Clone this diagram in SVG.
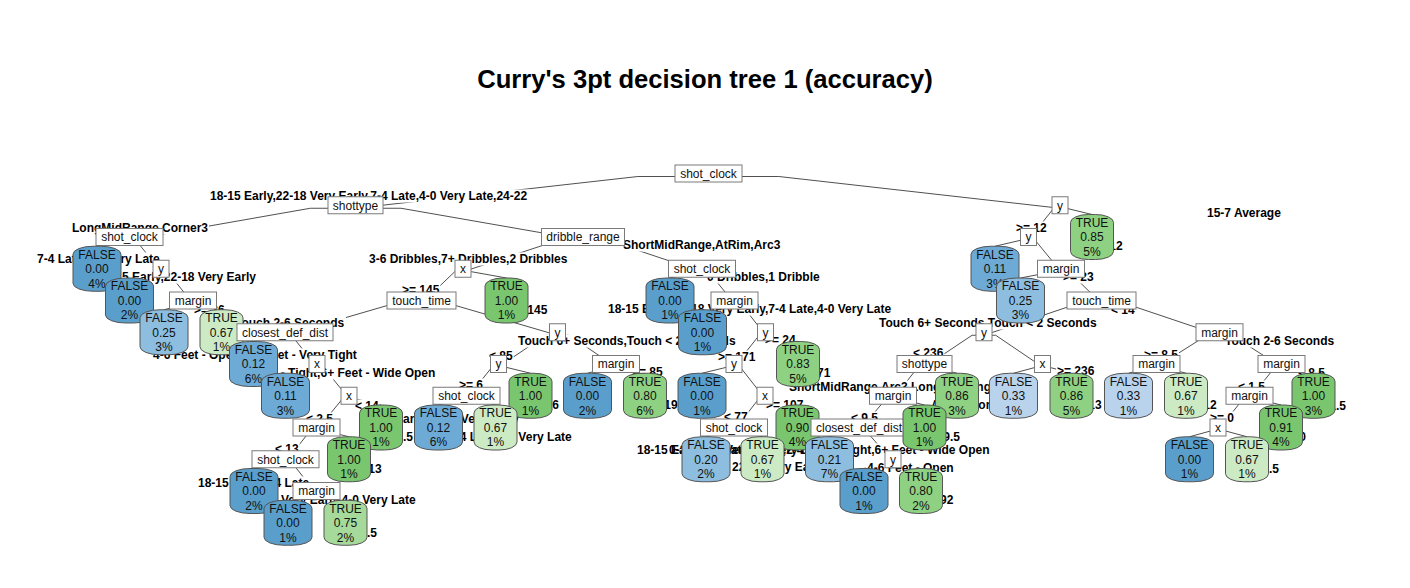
<svg xmlns="http://www.w3.org/2000/svg" width="1410" height="588" viewBox="0 0 1410 588">
<style>
.title{font:bold 25.6px "Liberation Sans",Arial,sans-serif;fill:#000;text-anchor:middle}
.e{fill:none;stroke:#505050;stroke-width:1}
.lb{fill:#fff}
.lbl{font:bold 12px "Liberation Sans",Arial,sans-serif;fill:#000}
.bx rect{fill:#fff;stroke:#7a7a7a;stroke-width:1}
.bx text,.lf text{font:12px "Liberation Sans",Arial,sans-serif;fill:#111;text-anchor:middle}
.lf rect{stroke:#555;stroke-width:1}
.f0 rect{fill:#5A9FCC}
.f1 rect{fill:#6DAAD5}
.f2 rect{fill:#8DBEDF}
.f3 rect{fill:#BAD3EC}
.t67 rect{fill:#CCEBC5}
.t75 rect{fill:#A6DA9A}
.t8 rect{fill:#8ED182}
.t9 rect{fill:#79C66F}
</style>
<text class="title" x="705" y="88">Curry's 3pt decision tree 1 (accuracy)</text>
<g id="connectors">
<polyline class="e" points="708.5,176.5 637.9,176.5 355.5,208.25"/>
<polyline class="e" points="708.5,176.5 778.8,176.5 1060,208.25"/>
<polyline class="e" points="355.5,208.25 310.3,208.25 129.5,240"/>
<polyline class="e" points="355.5,208.25 401,208.25 583,240"/>
<polyline class="e" points="1060,208.25 1053.7,208.25 1028.5,240"/>
<polyline class="e" points="1060,208.25 1066.4,208.25 1092,214.5"/>
<polyline class="e" points="129.5,240 123,240 97,246.25"/>
<polyline class="e" points="129.5,240 135.8,240 161,271.75"/>
<polyline class="e" points="583,240 559,240 463,271.75"/>
<polyline class="e" points="583,240 606.8,240 702,271.75"/>
<polyline class="e" points="1028.5,240 1021.8,240 995,246.25"/>
<polyline class="e" points="1028.5,240 1035,240 1061,271.75"/>
<polyline class="e" points="161,271.75 154.7,271.75 129.5,278"/>
<polyline class="e" points="161,271.75 167.4,271.75 193,303.5"/>
<polyline class="e" points="463,271.75 454.7,271.75 421.5,303.5"/>
<polyline class="e" points="463,271.75 471.7,271.75 506.5,278"/>
<polyline class="e" points="702,271.75 695.6,271.75 670,278"/>
<polyline class="e" points="702,271.75 708.5,271.75 734.5,303.5"/>
<polyline class="e" points="1061,271.75 1052.9,271.75 1020.5,278"/>
<polyline class="e" points="1061,271.75 1069.1,271.75 1101.5,303.5"/>
<polyline class="e" points="193,303.5 187.2,303.5 164,309.75"/>
<polyline class="e" points="193,303.5 198.7,303.5 221.5,309.75"/>
<polyline class="e" points="421.5,303.5 394.2,303.5 285,335.25"/>
<polyline class="e" points="421.5,303.5 448.7,303.5 557.5,335.25"/>
<polyline class="e" points="734.5,303.5 728.1,303.5 702.5,309.75"/>
<polyline class="e" points="734.5,303.5 740.7,303.5 765.5,335.25"/>
<polyline class="e" points="1101.5,303.5 1078,303.5 984,335.25"/>
<polyline class="e" points="1101.5,303.5 1125.1,303.5 1219.5,335.25"/>
<polyline class="e" points="285,335.25 278.7,335.25 253.5,341.5"/>
<polyline class="e" points="285,335.25 291.4,335.25 317,367"/>
<polyline class="e" points="557.5,335.25 545.7,335.25 498.5,367"/>
<polyline class="e" points="557.5,335.25 569.2,335.25 616,367"/>
<polyline class="e" points="765.5,335.25 759.2,335.25 734,367"/>
<polyline class="e" points="765.5,335.25 772,335.25 798,341.5"/>
<polyline class="e" points="984,335.25 972.1,335.25 924.5,367"/>
<polyline class="e" points="984,335.25 995.7,335.25 1042.5,367"/>
<polyline class="e" points="1219.5,335.25 1206.9,335.25 1156.5,367"/>
<polyline class="e" points="1219.5,335.25 1231.9,335.25 1281.5,367"/>
<polyline class="e" points="317,367 310.7,367 285.5,373.25"/>
<polyline class="e" points="317,367 323.4,367 349,398.75"/>
<polyline class="e" points="498.5,367 492.1,367 466.5,398.75"/>
<polyline class="e" points="498.5,367 504.9,367 530.5,373.25"/>
<polyline class="e" points="616,367 610.3,367 587.5,373.25"/>
<polyline class="e" points="616,367 621.8,367 645,373.25"/>
<polyline class="e" points="734,367 727.6,367 702,373.25"/>
<polyline class="e" points="734,367 740.2,367 765,398.75"/>
<polyline class="e" points="924.5,367 918.2,367 893,398.75"/>
<polyline class="e" points="924.5,367 931,367 957,373.25"/>
<polyline class="e" points="1042.5,367 1036.7,367 1013.5,373.25"/>
<polyline class="e" points="1042.5,367 1048.3,367 1071.5,373.25"/>
<polyline class="e" points="1156.5,367 1150.9,367 1128.5,373.25"/>
<polyline class="e" points="1156.5,367 1162.4,367 1186,373.25"/>
<polyline class="e" points="1281.5,367 1275.1,367 1249.5,398.75"/>
<polyline class="e" points="1281.5,367 1287.9,367 1313.5,373.25"/>
<polyline class="e" points="349,398.75 342.5,398.75 316.5,430.5"/>
<polyline class="e" points="349,398.75 355.4,398.75 381,405"/>
<polyline class="e" points="466.5,398.75 460.9,398.75 438.5,405"/>
<polyline class="e" points="466.5,398.75 472.3,398.75 495.5,405"/>
<polyline class="e" points="765,398.75 758.8,398.75 734,430.5"/>
<polyline class="e" points="765,398.75 771.5,398.75 797.5,405"/>
<polyline class="e" points="893,398.75 886.2,398.75 859,430.5"/>
<polyline class="e" points="893,398.75 899.3,398.75 924.5,405"/>
<polyline class="e" points="1249.5,398.75 1243.2,398.75 1218,430.5"/>
<polyline class="e" points="1249.5,398.75 1255.8,398.75 1281,405"/>
<polyline class="e" points="316.5,430.5 310.3,430.5 285.5,462.25"/>
<polyline class="e" points="316.5,430.5 323,430.5 349,436.75"/>
<polyline class="e" points="734,430.5 728.4,430.5 706,436.75"/>
<polyline class="e" points="734,430.5 739.7,430.5 762.5,436.75"/>
<polyline class="e" points="859,430.5 853.1,430.5 829.5,436.75"/>
<polyline class="e" points="859,430.5 865.8,430.5 893,462.25"/>
<polyline class="e" points="1218,430.5 1212.3,430.5 1189.5,436.75"/>
<polyline class="e" points="1218,430.5 1223.8,430.5 1247,436.75"/>
<polyline class="e" points="285.5,462.25 279.2,462.25 254,468.5"/>
<polyline class="e" points="285.5,462.25 291.7,462.25 316.5,494"/>
<polyline class="e" points="893,462.25 887.2,462.25 864,468.5"/>
<polyline class="e" points="893,462.25 898.6,462.25 921,468.5"/>
<polyline class="e" points="316.5,494 310.8,494 288,500.25"/>
<polyline class="e" points="316.5,494 322.3,494 345.5,500.25"/>
</g>
<g id="split-label-backgrounds" class="lb">
<rect x="209" y="189.5" width="322.2" height="13"/>
<rect x="1206" y="206.5" width="76.7" height="13"/>
<rect x="71" y="221.5" width="138" height="13"/>
<rect x="622" y="238.5" width="159.3" height="13"/>
<rect x="36" y="252.5" width="125.4" height="13"/>
<rect x="97" y="270.5" width="161.4" height="13"/>
<rect x="368" y="252.5" width="200.4" height="13"/>
<rect x="706" y="270.5" width="114.7" height="13"/>
<rect x="401" y="283.5" width="39.4" height="13"/>
<rect x="516" y="303.5" width="32.4" height="13"/>
<rect x="517" y="334.5" width="221.4" height="13"/>
<rect x="234" y="316.5" width="112" height="13"/>
<rect x="152" y="348.5" width="206.7" height="13"/>
<rect x="231" y="366.5" width="205.7" height="13"/>
<rect x="354" y="399.5" width="25.7" height="13"/>
<rect x="305" y="412.5" width="29" height="13"/>
<rect x="378" y="430.5" width="36" height="13"/>
<rect x="274" y="442.5" width="25.7" height="13"/>
<rect x="350" y="462.5" width="32.7" height="13"/>
<rect x="197" y="476.5" width="114.1" height="13"/>
<rect x="246" y="493.5" width="172.8" height="13"/>
<rect x="342" y="526.5" width="36" height="13"/>
<rect x="360" y="412.5" width="161.4" height="13"/>
<rect x="448" y="430.5" width="125.4" height="13"/>
<rect x="458" y="378.5" width="26" height="13"/>
<rect x="541" y="398.5" width="19" height="13"/>
<rect x="488" y="349.5" width="25.7" height="13"/>
<rect x="631" y="365.5" width="32.7" height="13"/>
<rect x="646" y="398.5" width="32.7" height="13"/>
<rect x="607" y="302.5" width="288.2" height="13"/>
<rect x="764" y="333.5" width="32.7" height="13"/>
<rect x="717" y="350.5" width="39.4" height="13"/>
<rect x="799" y="366.5" width="32.4" height="13"/>
<rect x="723" y="410.5" width="25.7" height="13"/>
<rect x="765" y="398.5" width="39.4" height="13"/>
<rect x="636" y="443.5" width="192.1" height="13"/>
<rect x="731" y="460.5" width="94.7" height="13"/>
<rect x="668" y="443.5" width="323.7" height="13"/>
<rect x="866" y="461.5" width="88.7" height="13"/>
<rect x="915" y="493.5" width="39.4" height="13"/>
<rect x="850" y="411.5" width="29" height="13"/>
<rect x="925" y="430.5" width="36" height="13"/>
<rect x="788" y="380.5" width="210.7" height="13"/>
<rect x="930" y="398.5" width="86.7" height="13"/>
<rect x="912" y="346.5" width="32.4" height="13"/>
<rect x="1056" y="364.5" width="39.4" height="13"/>
<rect x="1070" y="398.5" width="32.7" height="13"/>
<rect x="878" y="316.5" width="221.4" height="13"/>
<rect x="1224" y="334.5" width="112" height="13"/>
<rect x="1110" y="303.5" width="25.7" height="13"/>
<rect x="1062" y="270.5" width="32.7" height="13"/>
<rect x="1015" y="221.5" width="32.7" height="13"/>
<rect x="1098" y="239.5" width="25.7" height="13"/>
<rect x="1143" y="348.5" width="36" height="13"/>
<rect x="1297" y="366.5" width="29" height="13"/>
<rect x="1185" y="398.5" width="32.7" height="13"/>
<rect x="1237" y="380.5" width="29" height="13"/>
<rect x="1311" y="399.5" width="36" height="13"/>
<rect x="1209" y="411.5" width="26" height="13"/>
<rect x="1288" y="430.5" width="19" height="13"/>
<rect x="1244" y="462.5" width="36" height="13"/>
<rect x="193" y="303.5" width="32.7" height="13"/>
</g>
<g id="split-labels" class="lbl">
<text x="210" y="200.3">18-15 Early,22-18 Very Early,7-4 Late,4-0 Very Late,24-22</text>
<text x="1207" y="217.3">15-7 Average</text>
<text x="72" y="232.3">LongMidRange,Corner3</text>
<text x="623" y="249.3">ShortMidRange,AtRim,Arc3</text>
<text x="37" y="263.3">7-4 Late,4-0 Very Late</text>
<text x="98" y="281.3">18-15 Early,22-18 Very Early</text>
<text x="369" y="263.3">3-6 Dribbles,7+ Dribbles,2 Dribbles</text>
<text x="707" y="281.3">0 Dribbles,1 Dribble</text>
<text x="402" y="294.3">&gt;= 145</text>
<text x="517" y="314.3">&lt; 145</text>
<text x="518" y="345.3">Touch 6+ Seconds,Touch &lt; 2 Seconds</text>
<text x="235" y="327.3">Touch 2-6 Seconds</text>
<text x="153" y="359.3">4-6 Feet - Open,0-2 Feet - Very Tight</text>
<text x="232" y="377.3">2-4 Feet - Tight,6+ Feet - Wide Open</text>
<text x="355" y="410.3">&lt; 14</text>
<text x="306" y="423.3">&lt; 2.5</text>
<text x="379" y="441.3">&gt;= 2.5</text>
<text x="275" y="453.3">&lt; 13</text>
<text x="351" y="473.3">&gt;= 13</text>
<text x="198" y="487.3">18-15 Early,7-4 Late</text>
<text x="247" y="504.3">22-18 Very Early,4-0 Very Late</text>
<text x="343" y="537.3">&gt;= 2.5</text>
<text x="361" y="423.3">18-15 Early,22-18 Very Early</text>
<text x="449" y="441.3">7-4 Late,4-0 Very Late</text>
<text x="459" y="389.3">&gt;= 6</text>
<text x="542" y="409.3">&lt; 6</text>
<text x="489" y="360.3">&lt; 85</text>
<text x="632" y="376.3">&gt;= 85</text>
<text x="647" y="409.3">&gt;= 19</text>
<text x="608" y="313.3">18-15 Early,22-18 Very Early,7-4 Late,4-0 Very Late</text>
<text x="765" y="344.3">&gt;= 24</text>
<text x="718" y="361.3">&gt;= 171</text>
<text x="800" y="377.3">&lt; 171</text>
<text x="724" y="421.3">&lt; 77</text>
<text x="766" y="409.3">&gt;= 107</text>
<text x="637" y="454.3">18-15 Early,7-4 Late,4-0 Very Late</text>
<text x="732" y="471.3">22-18 Very Early</text>
<text x="669" y="454.3">0-2 Feet - Very Tight,2-4 Feet - Tight,6+ Feet - Wide Open</text>
<text x="867" y="472.3">4-6 Feet - Open</text>
<text x="916" y="504.3">&gt;= 192</text>
<text x="851" y="422.3">&lt; 9.5</text>
<text x="926" y="441.3">&gt;= 9.5</text>
<text x="789" y="391.3">ShortMidRange,Arc3,LongMidRange</text>
<text x="931" y="409.3">AtRim,Corner3</text>
<text x="913" y="357.3">&lt; 236</text>
<text x="1057" y="375.3">&gt;= 236</text>
<text x="1071" y="409.3">&gt;= 13</text>
<text x="879" y="327.3">Touch 6+ Seconds,Touch &lt; 2 Seconds</text>
<text x="1225" y="345.3">Touch 2-6 Seconds</text>
<text x="1111" y="314.3">&lt; 14</text>
<text x="1063" y="281.3">&gt;= 23</text>
<text x="1016" y="232.3">&gt;= 12</text>
<text x="1099" y="250.3">&lt; 12</text>
<text x="1144" y="359.3">&gt;= 8.5</text>
<text x="1298" y="377.3">&lt; 8.5</text>
<text x="1186" y="409.3">&gt;= 12</text>
<text x="1238" y="391.3">&lt; 1.5</text>
<text x="1312" y="410.3">&gt;= 1.5</text>
<text x="1210" y="422.3">&gt;= 0</text>
<text x="1289" y="441.3">&lt; 0</text>
<text x="1245" y="473.3">&gt;= 1.5</text>
<text x="194" y="314.3">&gt;= 26</text>
</g>
<g id="nodes">
<g id="n1" class="bx"><rect x="675" y="165" width="67" height="17"/><text x="708.5" y="177.8">shot_clock</text></g>
<g id="n2" class="bx"><rect x="328" y="196.75" width="55" height="17"/><text x="355.5" y="209.55">shottype</text></g>
<g id="n3" class="bx"><rect x="1052" y="196.75" width="16" height="17"/><text x="1060" y="209.55">y</text></g>
<g id="n4" class="bx"><rect x="96" y="228.5" width="67" height="17"/><text x="129.5" y="241.3">shot_clock</text></g>
<g id="n5" class="bx"><rect x="541.5" y="228.5" width="83" height="17"/><text x="583" y="241.3">dribble_range</text></g>
<g id="n6" class="bx"><rect x="1020.5" y="228.5" width="16" height="17"/><text x="1028.5" y="241.3">y</text></g>
<g id="n7" class="lf t8"><rect x="1070.5" y="214.5" width="43" height="45" rx="18" ry="8"/><text x="1092" y="226.8">TRUE<tspan x="1092" dy="14.5">0.85</tspan><tspan x="1092" dy="14.5">5%</tspan></text></g>
<g id="n8" class="lf f0"><rect x="73" y="246.25" width="48" height="45" rx="20" ry="8"/><text x="97" y="258.55">FALSE<tspan x="97" dy="14.5">0.00</tspan><tspan x="97" dy="14.5">4%</tspan></text></g>
<g id="n9" class="bx"><rect x="153" y="260.25" width="16" height="17"/><text x="161" y="273.05">y</text></g>
<g id="n10" class="bx"><rect x="455" y="260.25" width="16" height="17"/><text x="463" y="273.05">x</text></g>
<g id="n11" class="bx"><rect x="668.5" y="260.25" width="67" height="17"/><text x="702" y="273.05">shot_clock</text></g>
<g id="n12" class="lf f1"><rect x="971" y="246.25" width="48" height="45" rx="20" ry="8"/><text x="995" y="258.55">FALSE<tspan x="995" dy="14.5">0.11</tspan><tspan x="995" dy="14.5">3%</tspan></text></g>
<g id="n13" class="bx"><rect x="1037.5" y="260.25" width="47" height="17"/><text x="1061" y="273.05">margin</text></g>
<g id="n18" class="lf f0"><rect x="105.5" y="278" width="48" height="45" rx="20" ry="8"/><text x="129.5" y="290.3">FALSE<tspan x="129.5" dy="14.5">0.00</tspan><tspan x="129.5" dy="14.5">2%</tspan></text></g>
<g id="n19" class="bx"><rect x="169.5" y="292" width="47" height="17"/><text x="193" y="304.8">margin</text></g>
<g id="n20" class="bx"><rect x="387" y="292" width="69" height="17"/><text x="421.5" y="304.8">touch_time</text></g>
<g id="n21" class="lf t9"><rect x="485" y="278" width="43" height="45" rx="18" ry="8"/><text x="506.5" y="290.3">TRUE<tspan x="506.5" dy="14.5">1.00</tspan><tspan x="506.5" dy="14.5">1%</tspan></text></g>
<g id="n22" class="lf f0"><rect x="646" y="278" width="48" height="45" rx="20" ry="8"/><text x="670" y="290.3">FALSE<tspan x="670" dy="14.5">0.00</tspan><tspan x="670" dy="14.5">1%</tspan></text></g>
<g id="n23" class="bx"><rect x="711" y="292" width="47" height="17"/><text x="734.5" y="304.8">margin</text></g>
<g id="n26" class="lf f2"><rect x="996.5" y="278" width="48" height="45" rx="20" ry="8"/><text x="1020.5" y="290.3">FALSE<tspan x="1020.5" dy="14.5">0.25</tspan><tspan x="1020.5" dy="14.5">3%</tspan></text></g>
<g id="n27" class="bx"><rect x="1067" y="292" width="69" height="17"/><text x="1101.5" y="304.8">touch_time</text></g>
<g id="n38" class="lf f2"><rect x="140" y="309.75" width="48" height="45" rx="20" ry="8"/><text x="164" y="322.05">FALSE<tspan x="164" dy="14.5">0.25</tspan><tspan x="164" dy="14.5">3%</tspan></text></g>
<g id="n39" class="lf t67"><rect x="200" y="309.75" width="43" height="45" rx="18" ry="8"/><text x="221.5" y="322.05">TRUE<tspan x="221.5" dy="14.5">0.67</tspan><tspan x="221.5" dy="14.5">1%</tspan></text></g>
<g id="n40" class="bx"><rect x="237" y="323.75" width="96" height="17"/><text x="285" y="336.55">closest_def_dist</text></g>
<g id="n41" class="bx"><rect x="549.5" y="323.75" width="16" height="17"/><text x="557.5" y="336.55">y</text></g>
<g id="n46" class="lf f0"><rect x="678.5" y="309.75" width="48" height="45" rx="20" ry="8"/><text x="702.5" y="322.05">FALSE<tspan x="702.5" dy="14.5">0.00</tspan><tspan x="702.5" dy="14.5">1%</tspan></text></g>
<g id="n47" class="bx"><rect x="757.5" y="323.75" width="16" height="17"/><text x="765.5" y="336.55">y</text></g>
<g id="n54" class="bx"><rect x="976" y="323.75" width="16" height="17"/><text x="984" y="336.55">y</text></g>
<g id="n55" class="bx"><rect x="1196" y="323.75" width="47" height="17"/><text x="1219.5" y="336.55">margin</text></g>
<g id="n80" class="lf f1"><rect x="229.5" y="341.5" width="48" height="45" rx="20" ry="8"/><text x="253.5" y="353.8">FALSE<tspan x="253.5" dy="14.5">0.12</tspan><tspan x="253.5" dy="14.5">6%</tspan></text></g>
<g id="n81" class="bx"><rect x="309" y="355.5" width="16" height="17"/><text x="317" y="368.3">x</text></g>
<g id="n82" class="bx"><rect x="490.5" y="355.5" width="16" height="17"/><text x="498.5" y="368.3">y</text></g>
<g id="n83" class="bx"><rect x="592.5" y="355.5" width="47" height="17"/><text x="616" y="368.3">margin</text></g>
<g id="n94" class="bx"><rect x="726" y="355.5" width="16" height="17"/><text x="734" y="368.3">y</text></g>
<g id="n95" class="lf t8"><rect x="776.5" y="341.5" width="43" height="45" rx="18" ry="8"/><text x="798" y="353.8">TRUE<tspan x="798" dy="14.5">0.83</tspan><tspan x="798" dy="14.5">5%</tspan></text></g>
<g id="n108" class="bx"><rect x="897" y="355.5" width="55" height="17"/><text x="924.5" y="368.3">shottype</text></g>
<g id="n109" class="bx"><rect x="1034.5" y="355.5" width="16" height="17"/><text x="1042.5" y="368.3">x</text></g>
<g id="n110" class="bx"><rect x="1133" y="355.5" width="47" height="17"/><text x="1156.5" y="368.3">margin</text></g>
<g id="n111" class="bx"><rect x="1258" y="355.5" width="47" height="17"/><text x="1281.5" y="368.3">margin</text></g>
<g id="n162" class="lf f1"><rect x="261.5" y="373.25" width="48" height="45" rx="20" ry="8"/><text x="285.5" y="385.55">FALSE<tspan x="285.5" dy="14.5">0.11</tspan><tspan x="285.5" dy="14.5">3%</tspan></text></g>
<g id="n163" class="bx"><rect x="341" y="387.25" width="16" height="17"/><text x="349" y="400.05">x</text></g>
<g id="n164" class="bx"><rect x="433" y="387.25" width="67" height="17"/><text x="466.5" y="400.05">shot_clock</text></g>
<g id="n165" class="lf t9"><rect x="509" y="373.25" width="43" height="45" rx="18" ry="8"/><text x="530.5" y="385.55">TRUE<tspan x="530.5" dy="14.5">1.00</tspan><tspan x="530.5" dy="14.5">1%</tspan></text></g>
<g id="n166" class="lf f0"><rect x="563.5" y="373.25" width="48" height="45" rx="20" ry="8"/><text x="587.5" y="385.55">FALSE<tspan x="587.5" dy="14.5">0.00</tspan><tspan x="587.5" dy="14.5">2%</tspan></text></g>
<g id="n167" class="lf t8"><rect x="623.5" y="373.25" width="43" height="45" rx="18" ry="8"/><text x="645" y="385.55">TRUE<tspan x="645" dy="14.5">0.80</tspan><tspan x="645" dy="14.5">6%</tspan></text></g>
<g id="n188" class="lf f0"><rect x="678" y="373.25" width="48" height="45" rx="20" ry="8"/><text x="702" y="385.55">FALSE<tspan x="702" dy="14.5">0.00</tspan><tspan x="702" dy="14.5">1%</tspan></text></g>
<g id="n189" class="bx"><rect x="757" y="387.25" width="16" height="17"/><text x="765" y="400.05">x</text></g>
<g id="n216" class="bx"><rect x="869.5" y="387.25" width="47" height="17"/><text x="893" y="400.05">margin</text></g>
<g id="n217" class="lf t8"><rect x="935.5" y="373.25" width="43" height="45" rx="18" ry="8"/><text x="957" y="385.55">TRUE<tspan x="957" dy="14.5">0.86</tspan><tspan x="957" dy="14.5">3%</tspan></text></g>
<g id="n218" class="lf f3"><rect x="989.5" y="373.25" width="48" height="45" rx="20" ry="8"/><text x="1013.5" y="385.55">FALSE<tspan x="1013.5" dy="14.5">0.33</tspan><tspan x="1013.5" dy="14.5">1%</tspan></text></g>
<g id="n219" class="lf t8"><rect x="1050" y="373.25" width="43" height="45" rx="18" ry="8"/><text x="1071.5" y="385.55">TRUE<tspan x="1071.5" dy="14.5">0.86</tspan><tspan x="1071.5" dy="14.5">5%</tspan></text></g>
<g id="n220" class="lf f3"><rect x="1104.5" y="373.25" width="48" height="45" rx="20" ry="8"/><text x="1128.5" y="385.55">FALSE<tspan x="1128.5" dy="14.5">0.33</tspan><tspan x="1128.5" dy="14.5">1%</tspan></text></g>
<g id="n221" class="lf t67"><rect x="1164.5" y="373.25" width="43" height="45" rx="18" ry="8"/><text x="1186" y="385.55">TRUE<tspan x="1186" dy="14.5">0.67</tspan><tspan x="1186" dy="14.5">1%</tspan></text></g>
<g id="n222" class="bx"><rect x="1226" y="387.25" width="47" height="17"/><text x="1249.5" y="400.05">margin</text></g>
<g id="n223" class="lf t9"><rect x="1292" y="373.25" width="43" height="45" rx="18" ry="8"/><text x="1313.5" y="385.55">TRUE<tspan x="1313.5" dy="14.5">1.00</tspan><tspan x="1313.5" dy="14.5">3%</tspan></text></g>
<g id="n326" class="bx"><rect x="293" y="419" width="47" height="17"/><text x="316.5" y="431.8">margin</text></g>
<g id="n327" class="lf t9"><rect x="359.5" y="405" width="43" height="45" rx="18" ry="8"/><text x="381" y="417.3">TRUE<tspan x="381" dy="14.5">1.00</tspan><tspan x="381" dy="14.5">1%</tspan></text></g>
<g id="n328" class="lf f1"><rect x="414.5" y="405" width="48" height="45" rx="20" ry="8"/><text x="438.5" y="417.3">FALSE<tspan x="438.5" dy="14.5">0.12</tspan><tspan x="438.5" dy="14.5">6%</tspan></text></g>
<g id="n329" class="lf t67"><rect x="474" y="405" width="43" height="45" rx="18" ry="8"/><text x="495.5" y="417.3">TRUE<tspan x="495.5" dy="14.5">0.67</tspan><tspan x="495.5" dy="14.5">1%</tspan></text></g>
<g id="n378" class="bx"><rect x="700.5" y="419" width="67" height="17"/><text x="734" y="431.8">shot_clock</text></g>
<g id="n379" class="lf t9"><rect x="776" y="405" width="43" height="45" rx="18" ry="8"/><text x="797.5" y="417.3">TRUE<tspan x="797.5" dy="14.5">0.90</tspan><tspan x="797.5" dy="14.5">4%</tspan></text></g>
<g id="n432" class="bx"><rect x="811" y="419" width="96" height="17"/><text x="859" y="431.8">closest_def_dist</text></g>
<g id="n433" class="lf t9"><rect x="903" y="405" width="43" height="45" rx="18" ry="8"/><text x="924.5" y="417.3">TRUE<tspan x="924.5" dy="14.5">1.00</tspan><tspan x="924.5" dy="14.5">1%</tspan></text></g>
<g id="n444" class="bx"><rect x="1210" y="419" width="16" height="17"/><text x="1218" y="431.8">x</text></g>
<g id="n445" class="lf t9"><rect x="1259.5" y="405" width="43" height="45" rx="18" ry="8"/><text x="1281" y="417.3">TRUE<tspan x="1281" dy="14.5">0.91</tspan><tspan x="1281" dy="14.5">4%</tspan></text></g>
<g id="n652" class="bx"><rect x="252" y="450.75" width="67" height="17"/><text x="285.5" y="463.55">shot_clock</text></g>
<g id="n653" class="lf t9"><rect x="327.5" y="436.75" width="43" height="45" rx="18" ry="8"/><text x="349" y="449.05">TRUE<tspan x="349" dy="14.5">1.00</tspan><tspan x="349" dy="14.5">1%</tspan></text></g>
<g id="n756" class="lf f2"><rect x="682" y="436.75" width="48" height="45" rx="20" ry="8"/><text x="706" y="449.05">FALSE<tspan x="706" dy="14.5">0.20</tspan><tspan x="706" dy="14.5">2%</tspan></text></g>
<g id="n757" class="lf t67"><rect x="741" y="436.75" width="43" height="45" rx="18" ry="8"/><text x="762.5" y="449.05">TRUE<tspan x="762.5" dy="14.5">0.67</tspan><tspan x="762.5" dy="14.5">1%</tspan></text></g>
<g id="n864" class="lf f2"><rect x="805.5" y="436.75" width="48" height="45" rx="20" ry="8"/><text x="829.5" y="449.05">FALSE<tspan x="829.5" dy="14.5">0.21</tspan><tspan x="829.5" dy="14.5">7%</tspan></text></g>
<g id="n865" class="bx"><rect x="885" y="450.75" width="16" height="17"/><text x="893" y="463.55">y</text></g>
<g id="n888" class="lf f0"><rect x="1165.5" y="436.75" width="48" height="45" rx="20" ry="8"/><text x="1189.5" y="449.05">FALSE<tspan x="1189.5" dy="14.5">0.00</tspan><tspan x="1189.5" dy="14.5">1%</tspan></text></g>
<g id="n889" class="lf t67"><rect x="1225.5" y="436.75" width="43" height="45" rx="18" ry="8"/><text x="1247" y="449.05">TRUE<tspan x="1247" dy="14.5">0.67</tspan><tspan x="1247" dy="14.5">1%</tspan></text></g>
<g id="n1304" class="lf f0"><rect x="230" y="468.5" width="48" height="45" rx="20" ry="8"/><text x="254" y="480.8">FALSE<tspan x="254" dy="14.5">0.00</tspan><tspan x="254" dy="14.5">2%</tspan></text></g>
<g id="n1305" class="bx"><rect x="293" y="482.5" width="47" height="17"/><text x="316.5" y="495.3">margin</text></g>
<g id="n1730" class="lf f0"><rect x="840" y="468.5" width="48" height="45" rx="20" ry="8"/><text x="864" y="480.8">FALSE<tspan x="864" dy="14.5">0.00</tspan><tspan x="864" dy="14.5">1%</tspan></text></g>
<g id="n1731" class="lf t8"><rect x="899.5" y="468.5" width="43" height="45" rx="18" ry="8"/><text x="921" y="480.8">TRUE<tspan x="921" dy="14.5">0.80</tspan><tspan x="921" dy="14.5">2%</tspan></text></g>
<g id="n2610" class="lf f0"><rect x="264" y="500.25" width="48" height="45" rx="20" ry="8"/><text x="288" y="512.55">FALSE<tspan x="288" dy="14.5">0.00</tspan><tspan x="288" dy="14.5">1%</tspan></text></g>
<g id="n2611" class="lf t75"><rect x="324" y="500.25" width="43" height="45" rx="18" ry="8"/><text x="345.5" y="512.55">TRUE<tspan x="345.5" dy="14.5">0.75</tspan><tspan x="345.5" dy="14.5">2%</tspan></text></g>
</g>
</svg>
